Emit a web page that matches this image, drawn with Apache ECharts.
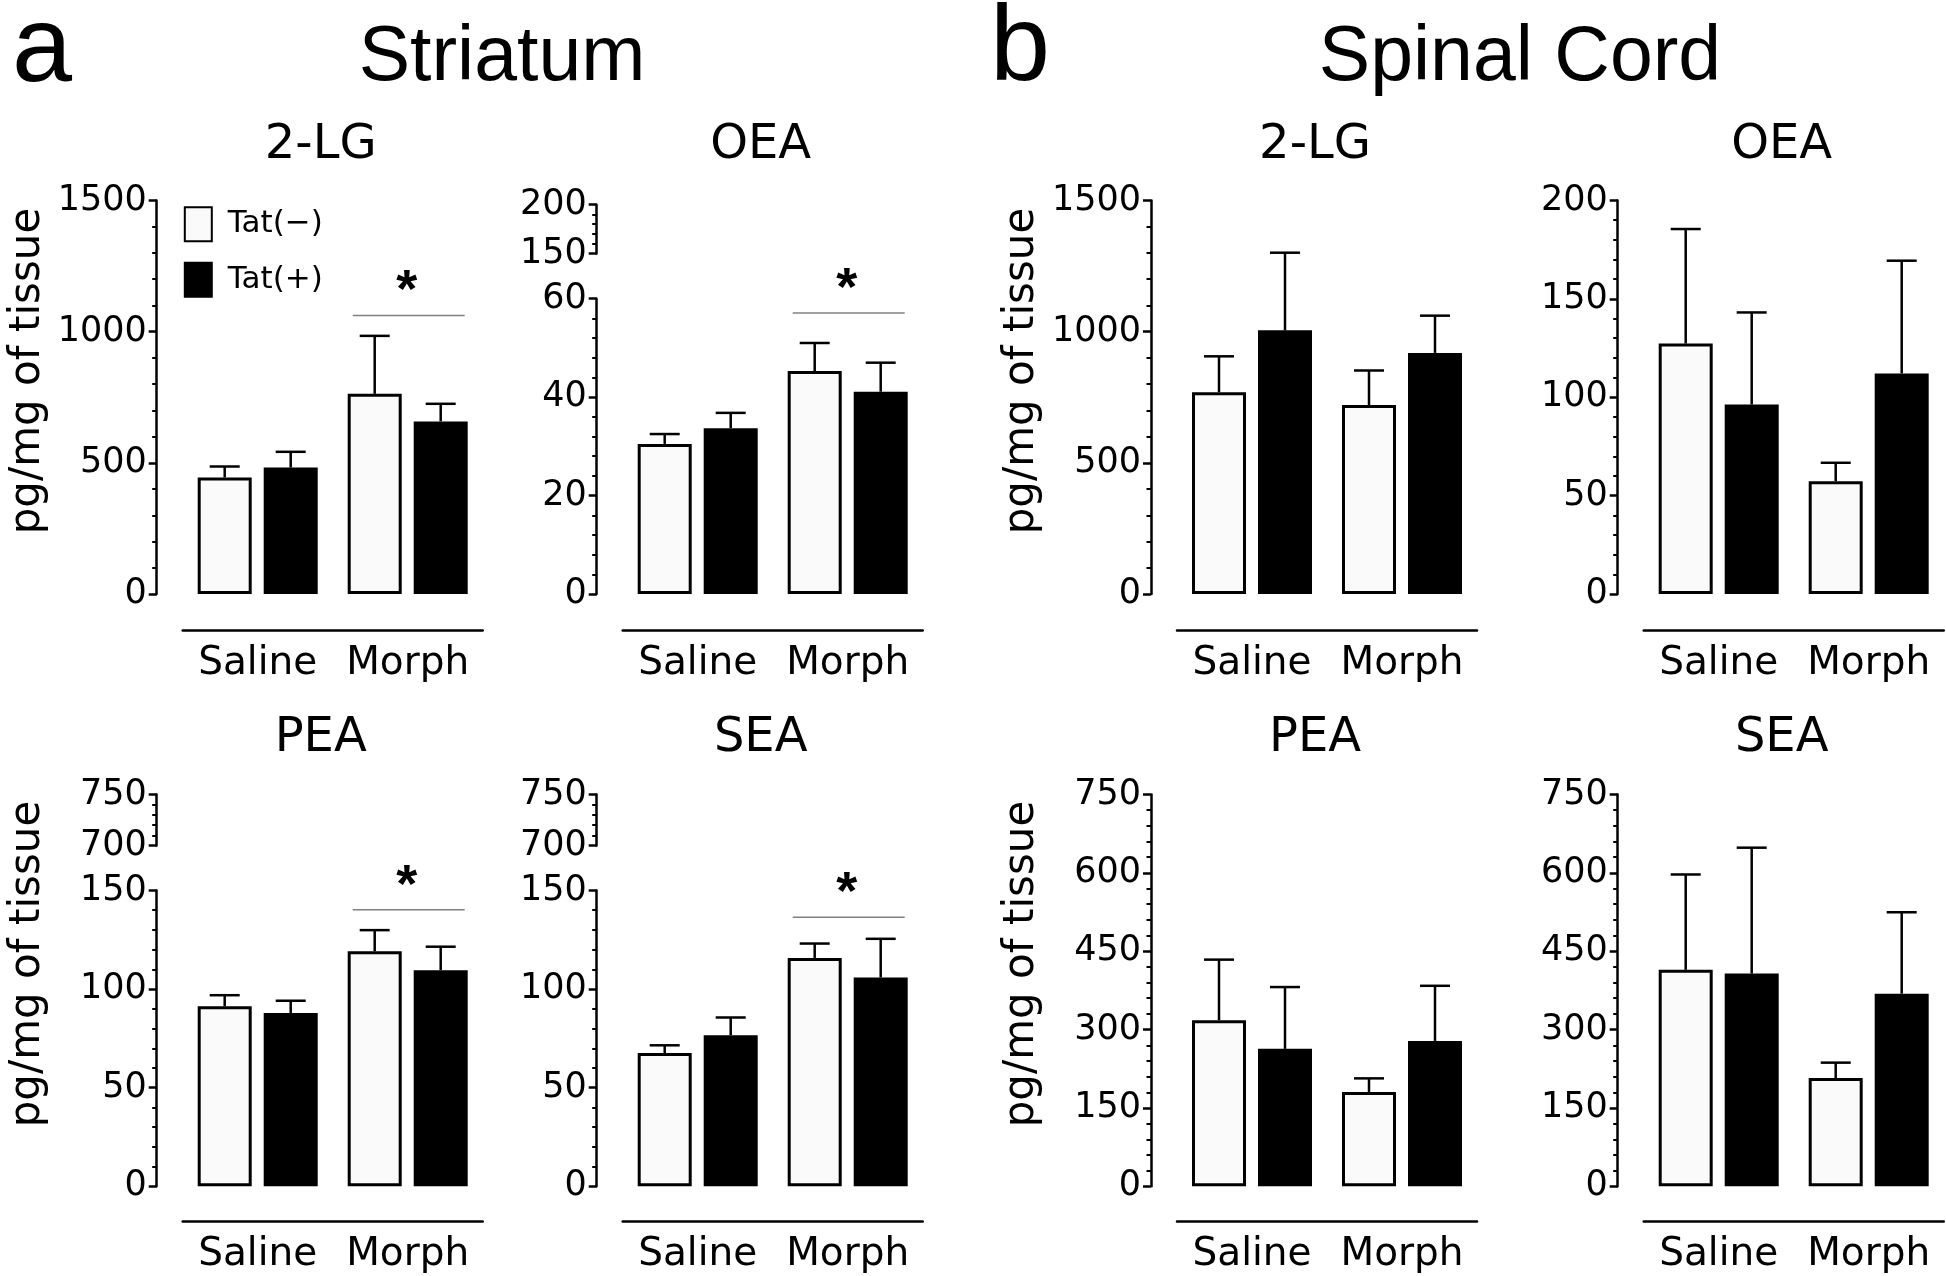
<!DOCTYPE html>
<html>
<head>
<meta charset="utf-8">
<script src="https://cdn.jsdelivr.net/npm/echarts@6/dist/echarts.min.js"></script>
<style>
html,body{margin:0;padding:0;background:#fff;}
#c{width:1946px;height:1276px;}
</style>
</head>
<body>
<div id="c"></div>
<script>
// ---------------- DATA ----------------
const groups = ['Saline', 'Morph'];
const seriesNames = ['Tat(\u2212)', 'Tat(+)'];
const yName = 'pg/mg of tissue';
const regionTitles = ['Striatum', 'Spinal Cord'];
const panelLetters = ['a', 'b'];

// Striatum
const str2LG_neg = [444, 763];    const str2LG_negSem = [42, 221];
const str2LG_pos = [482, 658];    const str2LG_posSem = [60, 67];
const str2LG_sig = 1062;
const strOEA_neg = [30.5, 45.3];  const strOEA_negSem = [2.0, 5.7];
const strOEA_pos = [33.7, 41.1];  const strOEA_posSem = [3.1, 5.9];
const strOEA_sig = 57.1;
const strPEA_neg = [91.3, 119.2]; const strPEA_negSem = [5.6, 10.7];
const strPEA_pos = [87.9, 109.6]; const strPEA_posSem = [6.2, 11.9];
const strPEA_sig = 140.3;
const strSEA_neg = [67.6, 115.8]; const strSEA_negSem = [3.9, 7.3];
const strSEA_pos = [76.6, 105.9]; const strSEA_posSem = [9.0, 19.6];
const strSEA_sig = 136.4;

// Spinal cord
const sp2LG_neg = [769, 720];     const sp2LG_negSem = [137, 132];
const sp2LG_pos = [1005, 919];    const sp2LG_posSem = [296, 142];
const spOEA_neg = [127.3, 57.3];  const spOEA_negSem = [58.2, 9.4];
const spOEA_pos = [96.3, 112.1];  const spOEA_posSem = [46.8, 57.3];
const spPEA_neg = [317.9, 180.6]; const spPEA_negSem = [116, 26];
const spPEA_pos = [263.1, 278.3]; const spPEA_posSem = [118.3, 105.5];
const spSEA_neg = [414.3, 207.2]; const spSEA_negSem = [182.6, 29.5];
const spSEA_pos = [407.3, 368.7]; const spSEA_posSem = [240.9, 155.9];

// axis ranges [min, max, interval]
const axis2LG = [0, 1500, 500];
const axisStrOEA = [0, 60, 20];   const axisStrOEAUpper = [150, 200, 50];
const axisStrFA = [0, 150, 50];   const axisStrFAUpper = [700, 750, 50];
const axisSpOEA = [0, 200, 50];
const axisSpFA = [0, 750, 150];

// ---------------- LAYOUT / STYLE ----------------
const FONT = 'DejaVu Sans';
const HFONT = 'Liberation Sans';
const COLS = [156.7, 596.7, 1151, 1617.7];
const ROWS = [
  {top:200.5, bottom:594, brokenTop:298.7, upTop:204.7, upBottom:253.5, xOff:36.7, titleY:146, nameY:371},
  {top:794.5, bottom:1186.3, brokenTop:890.5, upTop:794.6, upBottom:845.5, xOff:35, titleY:739, nameY:964}
];
const GW = 300, AX_GAP = 26;
const BAR_W = 54, BAR_GAP_PX = 12;
const BAR_OFF = (BAR_W + BAR_GAP_PX) / 2;
const CAP = 15;

const grids = [], xAxes = [], yAxes = [], series = [], graphics = [];

function yAxisCfg(gi, r) {
  return {
    type:'value', gridIndex:gi, min:r[0], max:r[1], interval:r[2], offset:AX_GAP,
    axisLine:{show:true, onZero:false, lineStyle:{color:'#000', width:2.5}},
    axisTick:{show:true, length:8, lineStyle:{color:'#000', width:2.5}},
    minorTick:{show:true, splitNumber:5, length:4.5, lineStyle:{color:'#000', width:2}},
    splitLine:{show:false}, minorSplitLine:{show:false},
    axisLabel:{fontFamily:FONT, fontSize:35, color:'#000', margin:10, formatter:v => String(v)}
  };
}

function errSeries(gi, means, sems, sign) {
  return {
    type:'custom', xAxisIndex:gi, yAxisIndex:gi, z:3, silent:true,
    data: means.map((m, i) => [i, m, m + sems[i]]),
    renderItem: (params, api) => {
      const b = api.coord([api.value(0), api.value(1)]);
      const t = api.coord([api.value(0), api.value(2)]);
      const x = b[0] + sign * BAR_OFF;
      return {type:'group', children:[
        {type:'line', shape:{x1:x, y1:b[1], x2:x, y2:t[1]}, style:{stroke:'#000', lineWidth:2.5}},
        {type:'line', shape:{x1:x-CAP, y1:t[1], x2:x+CAP, y2:t[1]}, style:{stroke:'#000', lineWidth:2.5}}
      ]};
    }
  };
}

function addPanel(p) {
  const row = ROWS[p.row], ax = COLS[p.col];
  const top = p.upper ? row.brokenTop : row.top;
  const gi = grids.length;
  grids.push({left:ax + AX_GAP, top:top, width:GW, height:row.bottom - top});
  xAxes.push({
    type:'category', gridIndex:gi, data:groups, offset:row.xOff,
    axisLine:{show:true, onZero:false, lineStyle:{color:'#000', width:2.5}},
    axisTick:{show:false},
    axisLabel:{fontFamily:FONT, fontSize:39, color:'#000', margin:14, interval:0}
  });
  yAxes.push(yAxisCfg(gi, p.range));
  series.push({
    type:'bar', name:seriesNames[0], xAxisIndex:gi, yAxisIndex:gi, data:p.neg,
    barWidth:BAR_W, barGap:(BAR_GAP_PX / BAR_W * 100) + '%', z:2,
    itemStyle:{color:'#fafafa', borderColor:'#000', borderWidth:3}
  });
  series.push({
    type:'bar', name:seriesNames[1], xAxisIndex:gi, yAxisIndex:gi, data:p.pos,
    barWidth:BAR_W, barGap:(BAR_GAP_PX / BAR_W * 100) + '%', z:2,
    itemStyle:{color:'#000', borderColor:'#000', borderWidth:3}
  });
  series.push(errSeries(gi, p.neg, p.negSem, -1));
  series.push(errSeries(gi, p.pos, p.posSem, 1));
  if (p.sig !== undefined) {
    series.push({
      type:'custom', xAxisIndex:gi, yAxisIndex:gi, z:3, silent:true,
      data:[[1, p.sig]],
      renderItem: (params, api) => {
        const c = api.coord([api.value(0), api.value(1)]);
        return {type:'group', children:[
          {type:'line', shape:{x1:c[0]-55, y1:c[1], x2:c[0]+57, y2:c[1]}, style:{stroke:'#808080', lineWidth:1.5}},
          {type:'text', style:{text:'*', x:c[0]-1, y:c[1]-23, align:'center', verticalAlign:'middle',
            font:'bold 54px "' + HFONT + '"', fill:'#000'}}
        ]};
      }
    });
  }
  if (p.upper) {
    const ug = grids.length;
    grids.push({left:ax + AX_GAP, top:row.upTop, width:GW, height:row.upBottom - row.upTop});
    xAxes.push({type:'category', gridIndex:ug, data:groups, show:false});
    yAxes.push(yAxisCfg(ug, p.upper));
  }
  graphics.push({type:'text', position:[ax + 164, row.titleY],
    style:{text:p.title, x:0, y:0, align:'center', verticalAlign:'middle', font:'48px "' + FONT + '"', fill:'#000'}});
  if (p.col === 0 || p.col === 2) {
    graphics.push({type:'text', rotation:Math.PI/2, position:[ax - 129, row.nameY],
      style:{text:yName, x:0, y:0, align:'center', verticalAlign:'middle', font:'42px "' + FONT + '"', fill:'#000'}});
  }
}

addPanel({col:0, row:0, title:'2-LG', range:axis2LG, neg:str2LG_neg, negSem:str2LG_negSem, pos:str2LG_pos, posSem:str2LG_posSem, sig:str2LG_sig});
addPanel({col:1, row:0, title:'OEA', range:axisStrOEA, upper:axisStrOEAUpper, neg:strOEA_neg, negSem:strOEA_negSem, pos:strOEA_pos, posSem:strOEA_posSem, sig:strOEA_sig});
addPanel({col:0, row:1, title:'PEA', range:axisStrFA, upper:axisStrFAUpper, neg:strPEA_neg, negSem:strPEA_negSem, pos:strPEA_pos, posSem:strPEA_posSem, sig:strPEA_sig});
addPanel({col:1, row:1, title:'SEA', range:axisStrFA, upper:axisStrFAUpper, neg:strSEA_neg, negSem:strSEA_negSem, pos:strSEA_pos, posSem:strSEA_posSem, sig:strSEA_sig});
addPanel({col:2, row:0, title:'2-LG', range:axis2LG, neg:sp2LG_neg, negSem:sp2LG_negSem, pos:sp2LG_pos, posSem:sp2LG_posSem});
addPanel({col:3, row:0, title:'OEA', range:axisSpOEA, neg:spOEA_neg, negSem:spOEA_negSem, pos:spOEA_pos, posSem:spOEA_posSem});
addPanel({col:2, row:1, title:'PEA', range:axisSpFA, neg:spPEA_neg, negSem:spPEA_negSem, pos:spPEA_pos, posSem:spPEA_posSem});
addPanel({col:3, row:1, title:'SEA', range:axisSpFA, neg:spSEA_neg, negSem:spSEA_negSem, pos:spSEA_pos, posSem:spSEA_posSem});

// headers
graphics.push({type:'text', position:[12, 51], style:{text:panelLetters[0], x:0, y:0, align:'left', verticalAlign:'middle', font:'108px "' + HFONT + '"', fill:'#000'}});
graphics.push({type:'text', position:[502, 59], style:{text:regionTitles[0], x:0, y:0, align:'center', verticalAlign:'middle', font:'77px "' + HFONT + '"', fill:'#000'}});
graphics.push({type:'text', position:[990, 50], style:{text:panelLetters[1], x:0, y:0, align:'left', verticalAlign:'middle', font:'108px "' + HFONT + '"', fill:'#000'}});
graphics.push({type:'text', position:[1520, 59], style:{text:regionTitles[1], x:0, y:0, align:'center', verticalAlign:'middle', font:'77px "' + HFONT + '"', fill:'#000'}});

const chart = echarts.init(document.getElementById('c'), null, {renderer:'canvas'});
chart.setOption({
  backgroundColor:'#fff',
  animation:false,
  grid:grids, xAxis:xAxes, yAxis:yAxes, series:series,
  legend:{
    data:seriesNames, left:183.8, top:206.2, padding:0, orient:'vertical', icon:'rect',
    itemWidth:27, itemHeight:34, itemGap:19.6, selectedMode:false,
    textStyle:{fontFamily:FONT, fontSize:31, color:'#000', padding:[0,0,0,11]}
  },
  graphic:graphics
});
</script>
</body>
</html>
